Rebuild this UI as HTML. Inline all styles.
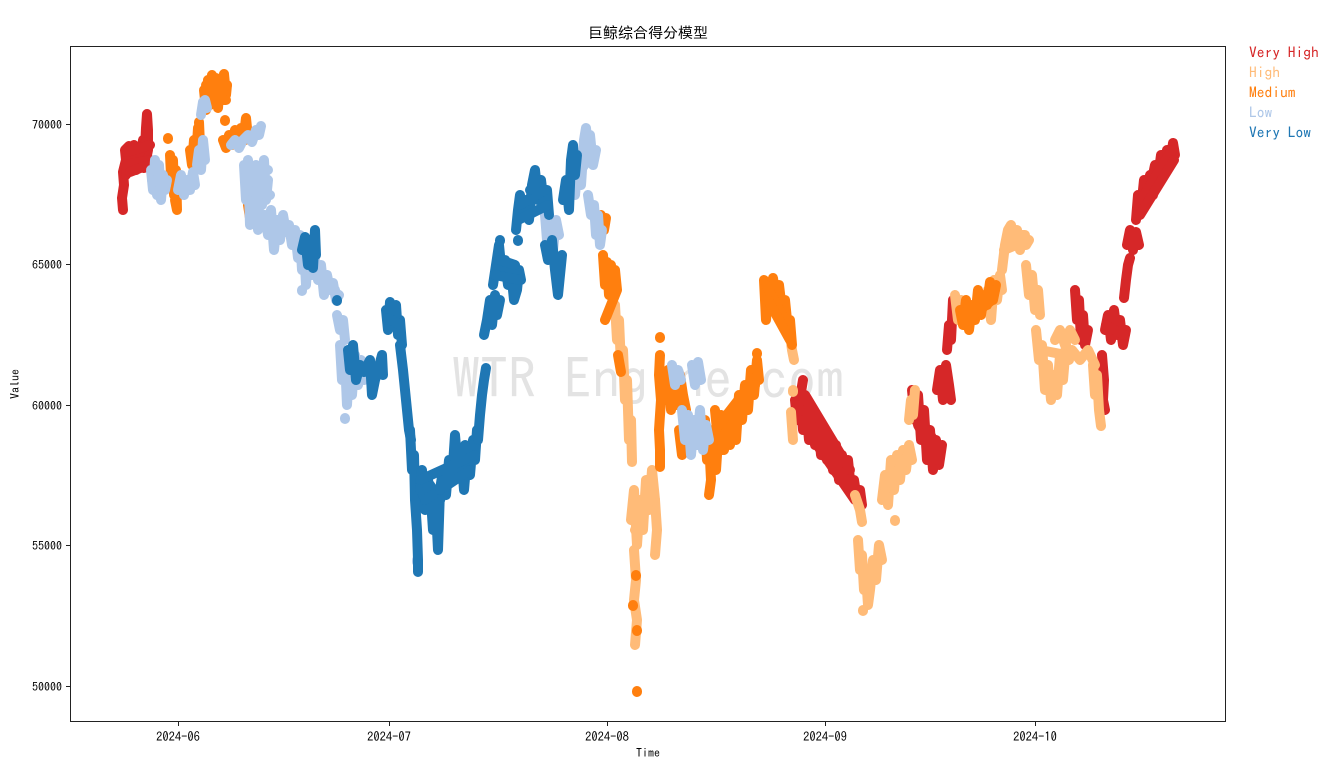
<!DOCTYPE html>
<html><head><meta charset="utf-8"><style>
html,body{margin:0;padding:0;background:#fff;}
svg{display:block;}
.t{font-family:"IPAGothic","Liberation Sans","Noto Sans CJK SC",sans-serif;fill:#000;}
g.s polyline{fill:none;stroke-width:10;stroke-linecap:round;stroke-linejoin:round;}
</style></head><body>
<svg width="1330" height="775" viewBox="0 0 1330 775" xmlns="http://www.w3.org/2000/svg">
<rect width="1330" height="775" fill="#fff"/>
<text class="t" x="648" y="38" font-size="15" text-anchor="middle">巨鲸综合得分模型</text>

<!-- watermark -->
<text x="648" y="399" font-family="IPAGothic,'DejaVu Sans Mono',monospace" font-size="56" fill="#e3e3e3" text-anchor="middle">WTR Engine.com</text>

<!-- Very High -->
<g class="s" stroke="#d62728">
<polyline points="123,210 122,198 124,185 123,172 126,160 125,150 129,146 132,160 134,148 137,165 139,150 141,160 143,140 145,150 146,128 147,114 148,130 148,150 146,160 144,168 140,158 136,170 131,162 127,172"/>
<polyline points="126,175 130,150 134,145 138,155 142,148 146,142"/>
<polyline points="125,165 150,160"/><polyline points="127,152 150,145"/><polyline points="130,172 148,165"/>
<polyline points="795,400 797,420 800,395 803,430 806,405 809,440 812,410 815,445 818,420 821,455 824,430 827,460 830,440 833,470 836,445 839,480 842,455 845,475 848,460 851,490 854,480 857,500 860,490 862,505"/>
<polyline points="803,380 798,410 805,420 812,430 820,440 828,450 836,460 844,470 852,485"/>
<polyline points="797,405 860,495"/><polyline points="800,420 855,500"/><polyline points="805,395 850,470"/>
<polyline points="912,390 915,420 918,395 921,440 924,410 927,460 930,430 933,470 936,440 939,465 942,445"/>
<polyline points="914,410 940,450"/><polyline points="918,425 938,460"/>
<polyline points="937,390 940,370 943,400 946,365 949,385 951,400"/>
<polyline points="947,350 949,325 951,340 953,300 955,310"/>
<polyline points="1075,290 1077,320 1079,300 1081,340 1083,315 1085,345 1088,330"/>
<polyline points="1102,355 1104,380 1103,400 1105,410"/>
<polyline points="1105,330 1108,315 1111,340 1114,310 1117,335 1120,320 1123,345 1126,330"/>
<polyline points="1106,325 1124,335"/>
<polyline points="1124,298 1126,280 1128,265 1130,258"/>
<polyline points="1127,245 1130,230 1133,250 1136,232 1139,245"/>
<polyline points="1136,220 1138,195 1141,210 1144,180 1147,200 1150,175 1153,195 1156,180"/>
<polyline points="1152,180 1155,165 1158,178 1161,155 1164,170 1167,150 1170,165 1173,143 1175,155"/>
<polyline points="1138,205 1172,150"/><polyline points="1140,215 1174,160"/>
</g>

<!-- High -->
<g class="s" stroke="#ffbb78">
<polyline points="615,305 617,340 619,320 621,365 623,350 625,400 627,380 629,440 631,420 632,462"/>
<polyline points="631,520 634,490 637,545 640,500 643,530 646,480 649,510 652,470 655,500 657,530 655,555"/>
<polyline points="633,510 655,500"/><polyline points="635,530 652,495"/>
<polyline points="634,550 636,580 634,600 637,620 635,645"/>
<polyline points="790,335 792,350 794,360"/>
<polyline points="793,390 793,392"/>
<polyline points="791,412 793,440"/>
<polyline points="855,495 860,510 862,522"/>
<polyline points="858,540 860,570 862,555 864,590 866,575 868,605 870,590 873,560 876,580 879,545 882,560"/>
<polyline points="863,610 863,611"/>
<polyline points="882,500 885,475 888,505 891,460 894,490 897,455 900,480 903,450 906,470 909,445 912,460"/>
<polyline points="885,490 908,455"/>
<polyline points="895,520 895,521"/>
<polyline points="909,420 911,400 913,415 915,390"/>
<polyline points="955,295 958,320 961,300 963,315"/>
<polyline points="985,310 988,290 991,320 994,280 997,300 1000,275 1002,290"/>
<polyline points="1002,270 1005,245 1008,230 1011,225 1014,240 1017,230 1020,250 1023,235 1026,245 1029,240"/>
<polyline points="1004,250 1028,240"/><polyline points="1008,235 1025,235"/>
<polyline points="1026,265 1029,295 1032,275 1035,310 1038,290 1040,315"/>
<polyline points="1036,330 1039,360 1042,345 1045,390 1048,365 1051,400 1054,375 1057,395 1060,355 1063,380 1066,345 1069,360"/>
<polyline points="1040,350 1066,355"/><polyline points="1045,375 1060,375"/>
<polyline points="1055,340 1060,330 1065,345 1070,330 1075,340"/>
<polyline points="1072,350 1080,360 1088,350 1095,365"/>
<polyline points="1093,365 1095,395 1097,375 1099,410 1101,426"/>
</g>

<!-- Medium -->
<g class="s" stroke="#ff7f0e">
<polyline points="168,138 168,139"/>
<polyline points="170,155 171,175 173,160 174,195 176,170 177,210 175,200"/>
<polyline points="190,150 192,165 194,140 196,160 198,128 200,145 199,122"/>
<polyline points="204,90 206,110 208,80 210,105 212,75 214,100 216,78 218,108 220,80 222,100 224,74 226,95 227,85"/>
<polyline points="207,95 211,85 215,95 219,88 223,92"/>
<polyline points="206,85 227,85"/><polyline points="206,100 226,100"/>
<polyline points="225,120 225,121"/>
<polyline points="223,140 226,148 229,135 232,145 235,130 238,142 241,128 244,135 246,118 247,128 245,140"/>
<polyline points="248,205 250,218"/>
<polyline points="601,215 604,230 606,218"/>
<polyline points="603,255 605,285 607,262 609,295 611,265 613,300 615,270 617,290 605,320"/>
<polyline points="618,355 621,372"/>
<polyline points="636,575 636,576"/><polyline points="633,605 633,606"/><polyline points="637,630 637,631"/>
<polyline points="637,691 637,692"/>
<polyline points="660,337 660,338"/>
<polyline points="660,355 659,375 661,400 659,430 660,450 660,467"/>
<polyline points="662,380 665,400 668,370 671,410 674,385 677,405 680,375 683,395 686,410"/>
<polyline points="679,430 682,455 686,440"/>
<polyline points="705,420 707,460 709,440 711,480 709,495"/>
<polyline points="713,430 716,470 719,425 722,450"/>
<polyline points="715,410 718,440 721,415 724,450 727,420 730,445 733,410 736,440 739,395 742,420 745,385 748,410 751,370 754,395 757,360 759,380"/>
<polyline points="715,430 758,375"/><polyline points="720,445 755,385"/>
<polyline points="757,353 757,354"/>
<polyline points="764,280 766,320 768,290 770,310 773,278 776,300 779,285 782,310 785,300 788,330 790,320 792,345"/>
<polyline points="766,285 790,330"/><polyline points="768,300 790,340"/>
<polyline points="960,310 963,325 966,300 969,330 972,305 975,320 978,290 981,315 984,295 987,305 990,282 993,300 996,285"/>
<polyline points="962,315 995,290"/><polyline points="965,322 992,300"/>
</g>

<!-- Low -->
<g class="s" stroke="#aec7e8">
<polyline points="151,170 153,190 155,160 157,195 159,165 161,200 163,175 165,190 167,180"/>
<polyline points="152,180 166,185"/>
<polyline points="178,190 181,175 184,195 187,180 190,190 193,172 195,185"/>
<polyline points="197,165 199,150 201,170 203,140 205,160"/>
<polyline points="201,115 203,102 205,100 207,108"/>
<polyline points="231,145 235,140 239,148 243,140 248,135 252,142 256,130 259,135 261,126"/>
<polyline points="244,165 246,200 248,160 250,225 252,175 254,215 256,165 258,230 260,180 262,205 264,160 266,200 268,180"/>
<polyline points="245,170 268,170"/><polyline points="247,190 270,195"/><polyline points="250,210 275,220"/>
<polyline points="265,215 268,235 271,210 274,250 277,220 280,240 283,215 286,232 289,225 292,245 295,230 298,258 300,240"/>
<polyline points="300,235 302,270 304,245 306,285 308,250 312,275 315,260 318,280 321,265 324,295 327,275 330,290 333,283 336,300 339,295"/>
<polyline points="302,255 338,295"/><polyline points="305,268 335,290"/>
<polyline points="302,290 302,291"/>
<polyline points="337,315 340,330 343,320 345,340"/>
<polyline points="340,345 342,380 345,360 347,405 349,370 352,395 355,355 358,385 361,360 364,380 367,370"/>
<polyline points="345,418 345,419"/>
<polyline points="417,560 417,562"/>
<polyline points="545,215 547,240 550,225 553,250 556,220 559,235"/>
<polyline points="566,195 569,185 572,170 575,195 578,160 581,185 584,140 586,128 588,150 590,135 593,165 596,150"/>
<polyline points="568,190 594,150"/><polyline points="572,185 590,145"/>
<polyline points="588,195 591,215 594,205 596,235 598,215 600,245 602,230"/>
<polyline points="672,365 675,385 678,370 681,380"/>
<polyline points="692,365 695,385 698,362 701,380"/>
<polyline points="682,410 685,440 688,415 691,455 694,420 697,445 700,410 703,450 706,425 709,440"/>
<polyline points="684,425 706,430"/>
</g>

<!-- Very Low -->
<g class="s" stroke="#1f77b4">
<polyline points="302,250 305,237 308,265 311,240 313,268 315,230 316,255"/>
<polyline points="337,300 337,301"/>
<polyline points="348,350 350,370 353,345 356,380 360,365 364,372 370,360 372,395 375,380 378,370 382,355 383,375"/>
<polyline points="386,310 388,330 390,302 393,320 396,305 398,335 400,320 402,345"/>
<polyline points="388,318 400,325"/>
<polyline points="400,345 403,370 405,390 407,410 409,430 411,440"/>
<polyline points="410,430 412,470 414,455 415,500 417,530 418,560 418,572"/>
<polyline points="420,490 422,470 425,510 428,480 431,500 433,530 436,510 438,550 440,490 443,470 446,495 449,460 452,480 455,435 458,470 461,450 464,490 467,455 470,475 473,440 475,460 477,430"/>
<polyline points="423,495 430,485 440,500 450,475 460,470 470,460"/>
<polyline points="420,480 475,455"/><polyline points="425,500 470,470"/><polyline points="440,490 465,445"/>
<polyline points="478,440 480,415 482,395 484,380 486,368"/>
<polyline points="484,335 487,320 490,300 492,325 495,295 497,315 500,300"/>
<polyline points="493,285 496,265 499,245 502,275 505,260 508,285 511,270 514,300 517,290 519,270 521,280"/>
<polyline points="495,275 520,280"/><polyline points="500,260 515,265"/>
<polyline points="518,240 518,241"/><polyline points="500,240 500,241"/>
<polyline points="516,230 518,210 520,195 523,215 526,200 529,220 532,185 535,170 538,200 541,180 544,205 547,190 549,215"/>
<polyline points="518,220 548,205"/><polyline points="520,205 545,190"/><polyline points="530,190 540,180"/>
<polyline points="545,245 548,260 552,240 555,270 558,295 560,275 562,255"/>
<polyline points="563,200 566,180 569,210 571,160 573,145 575,175 577,155"/>
</g>

<!-- axes frame -->
<rect x="70.5" y="46.5" width="1155" height="675" fill="none" stroke="#222" stroke-width="1"/>

<g stroke="#222" stroke-width="1">
<line x1="66" y1="124.5" x2="70" y2="124.5"/>
<line x1="66" y1="264.5" x2="70" y2="264.5"/>
<line x1="66" y1="405.5" x2="70" y2="405.5"/>
<line x1="66" y1="545.5" x2="70" y2="545.5"/>
<line x1="66" y1="686.5" x2="70" y2="686.5"/>
<line x1="178.5" y1="722" x2="178.5" y2="726"/>
<line x1="389.5" y1="722" x2="389.5" y2="726"/>
<line x1="607.5" y1="722" x2="607.5" y2="726"/>
<line x1="825.5" y1="722" x2="825.5" y2="726"/>
<line x1="1035.5" y1="722" x2="1035.5" y2="726"/>
</g>
<g class="t" font-size="12" text-anchor="end">
<text x="62" y="129">70000</text>
<text x="62" y="269">65000</text>
<text x="62" y="410">60000</text>
<text x="62" y="550">55000</text>
<text x="62" y="691">50000</text>
</g>
<g class="t" font-size="12.5" text-anchor="middle">
<text x="178" y="741">2024-06</text>
<text x="389" y="741">2024-07</text>
<text x="607" y="741">2024-08</text>
<text x="825" y="741">2024-09</text>
<text x="1035" y="741">2024-10</text>
</g>
<text class="t" x="648" y="757" font-size="12" text-anchor="middle">Time</text>
<text class="t" x="19" y="384" font-size="12" text-anchor="middle" transform="rotate(-90 19 384)">Value</text>

<g font-family="IPAGothic,'DejaVu Sans Mono',monospace" font-size="15.5">
<text x="1249" y="58" fill="#d62728">Very High</text>
<text x="1249" y="78" fill="#ffbb78">High</text>
<text x="1249" y="98" fill="#ff7f0e">Medium</text>
<text x="1249" y="118" fill="#aec7e8">Low</text>
<text x="1249" y="138" fill="#1f77b4">Very Low</text>
</g>
</svg>
</body></html>
